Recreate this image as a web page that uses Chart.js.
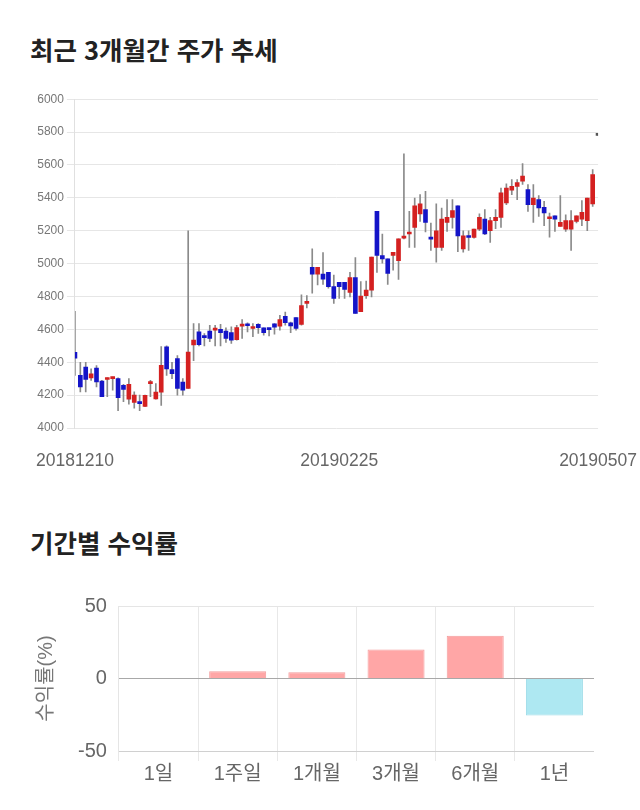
<!DOCTYPE html>
<html lang="ko">
<head>
<meta charset="utf-8">
<title>주가 추세</title>
<script src="https://cdn.jsdelivr.net/npm/chart.js@4/dist/chart.umd.min.js"></script>
<style>
  html, body { margin: 0; padding: 0; background: #fff; }
  body { width: 640px; height: 810px; position: relative; overflow: hidden; }
  .title {
    position: absolute; left: 30px; margin: 0;
    font-family: "Noto Sans CJK KR", "Noto Sans", sans-serif;
    font-size: 25.5px; font-weight: bold; line-height: 26px; color: #222;
  }
  canvas { position: absolute; }
</style>
</head>
<body>
<h2 class="title" style="top:36px">최근 3개월간 주가 추세</h2>
<canvas id="price-chart" width="607" height="386" style="left:33px; top:89px"></canvas>
<h2 class="title" style="top:529px">기간별 수익률</h2>
<canvas id="return-chart" width="564" height="196" style="left:30px; top:591px"></canvas>
<script>
// 일별 시세 (시가 / 고가 / 저가 / 종가)
const dates = [
  "20181210","20181211","20181212","20181213","20181214","20181217","20181218","20181219","20181220","20181221",
  "20181224","20181226","20181227","20181228","20190102","20190103","20190104","20190107","20190108","20190109",
  "20190110","20190111","20190114","20190115","20190116","20190117","20190118","20190121","20190122","20190123",
  "20190124","20190125","20190128","20190129","20190130","20190131","20190201","20190207","20190208","20190211",
  "20190212","20190213","20190214","20190215","20190218","20190219","20190220","20190221","20190222","20190225",
  "20190226","20190227","20190228","20190304","20190305","20190306","20190307","20190308","20190311","20190312",
  "20190313","20190314","20190315","20190318","20190319","20190320","20190321","20190322","20190325","20190326",
  "20190327","20190328","20190329","20190401","20190402","20190403","20190404","20190405","20190408","20190409",
  "20190410","20190411","20190412","20190415","20190416","20190417","20190418","20190419","20190422","20190423",
  "20190424","20190425","20190426","20190429","20190430","20190502","20190503","20190507"
];
const openPrices = [
  4460,4320,4370,4305,4365,4285,4295,4300,4300,4260, 4175,4155,4150,4132,4270,4177,4218,4493,4356,4422,
  4280,4240,4505,4585,4560,4590,4595,4600,4590,4580, 4538,4620,4625,4605,4630,4610,4600,4633,4620,4680,
  4640,4672,4630,4758,4978,4935,4937,4947,4860,4886, 4886,4825,4915,4707,4805,4839,5318,5049,5029,5049,
  5018,5155,5180,5220,5302,5328,5159,5098,5098,5251, 5281,5352,5090,5169,5159,5210,5271,5200,5261,5281,
  5369,5446,5470,5501,5450,5359,5389,5342,5273,5291, 5226,5210,5210,5257,5271,5261,5363,5780
];
const highPrices = [
  4710,4400,4400,4360,4380,4290,4305,4310,4305,4265, 4300,4220,4200,4200,4290,4270,4495,4500,4400,4440,
  4300,5200,4635,4635,4575,4625,4625,4630,4610,4615, 4625,4660,4640,4635,4635,4610,4600,4635,4685,4705,
  4645,4672,4810,4805,5090,4978,5067,4947,4930,4886, 4886,4947,5037,4890,4894,5039,5318,5180,5029,5069,
  5151,5668,5318,5399,5420,5440,5247,5363,5338,5389, 5389,5352,5200,5200,5210,5302,5328,5281,5328,5460,
  5485,5511,5511,5609,5481,5481,5414,5379,5308,5291, 5414,5297,5322,5291,5383,5399,5572,5780
];
const lowPrices = [
  4320,4220,4220,4290,4250,4190,4190,4230,4105,4160, 4145,4120,4105,4130,4190,4175,4137,4320,4300,4200,
  4200,4240,4410,4500,4500,4525,4500,4500,4520,4515, 4535,4545,4585,4555,4575,4565,4560,4570,4595,4625,
  4580,4595,4625,4730,4820,4870,4874,4850,4758,4788, 4788,4798,4697,4707,4788,4798,4947,5002,4874,4960,
  4904,5150,5098,5098,5257,5192,5080,5008,5080,5196, 5216,5073,5069,5080,5155,5200,5176,5129,5212,5220,
  5358,5420,5389,5481,5318,5251,5287,5230,5161,5196, 5226,5196,5080,5247,5230,5200,5348,5780
];
const closePrices = [
  4425,4250,4295,4330,4280,4190,4300,4303,4185,4235, 4265,4200,4148,4198,4275,4218,4381,4360,4330,4240,
  4230,4462,4535,4507,4550,4545,4600,4580,4545,4535, 4611,4625,4622,4610,4610,4580,4598,4613,4660,4640,
  4621,4605,4745,4768,4935,4978,4906,4860,4788,4860, 4843,4915,4697,4803,4839,5039,5049,5029,4941,5069,
  5151,5165,5190,5352,5363,5251,5149,5200,5271,5281, 5322,5169,5169,5159,5210,5281,5180,5261,5281,5430,
  5460,5470,5493,5532,5359,5399,5338,5308,5277,5271, 5251,5261,5261,5291,5312,5399,5542,5780
];
const shownDateIdx = [0, 49, 97];
const priceTicks = { min: 4000, max: 6000, step: 200 };

// 기간별 수익률
const periods = ["1일", "1주일", "1개월", "3개월", "6개월", "1년"];
const returns = [0, 5.0, 4.3, 20.0, 29.5, -25.5];

const FONT = "'Liberation Sans', 'Noto Sans CJK KR', sans-serif";
Chart.defaults.font.family = FONT;
Chart.defaults.color = "#666";

// 캔들 차트 (몸통 + 꼬리를 플로팅 막대로)
const bodyColors = openPrices.map((o, i) => {
  if (closePrices[i] > o) return "#d42020";
  if (closePrices[i] < o) return "#1414c8";
  return "#555";
});

new Chart(document.getElementById("price-chart"), {
  type: "bar",
  data: {
    labels: dates,
    datasets: [
      {
        label: "body",
        data: openPrices.map((o, i) => [o, closePrices[i]]),
        backgroundColor: bodyColors,
        barThickness: 4,
        minBarLength: 2,
        grouped: false
      },
      {
        label: "wick",
        data: lowPrices.map((l, i) => [l, highPrices[i]]),
        backgroundColor: "#8a8a8a",
        barThickness: 1,
        grouped: false
      }
    ]
  },
  options: {
    responsive: false,
    animation: false,
    devicePixelRatio: 1,
    plugins: { legend: { display: false }, tooltip: { enabled: false } },
    scales: {
      x: {
        offset: false,
        grid: { display: false, drawTicks: true, tickLength: 20 },
        border: { display: false },
        ticks: {
          autoSkip: false,
          maxRotation: 0,
          padding: 3,
          color: "#666",
          font: { size: 17.5 },
          callback: function (value, index) {
            return shownDateIdx.includes(index) ? dates[index] : "";
          }
        }
      },
      y: {
        min: priceTicks.min,
        max: priceTicks.max,
        grid: { color: "#e6e6e6" },
        border: { color: "#e0e0e0" },
        ticks: {
          stepSize: priceTicks.step,
          color: "#777",
          font: { size: 12 },
          callback: value => String(value)
        }
      }
    }
  }
});

// 수익률 막대 차트
new Chart(document.getElementById("return-chart"), {
  type: "bar",
  data: {
    labels: periods,
    datasets: [{
      data: returns,
      backgroundColor: returns.map(v => v >= 0 ? "#ffa6a6" : "#aee8f2"),
      borderColor: returns.map(v => v >= 0 ? "#f39c9c" : "#9bdbe8"),
      borderWidth: 1
    }]
  },
  options: {
    responsive: false,
    animation: false,
    devicePixelRatio: 1,
    plugins: { legend: { display: false }, tooltip: { enabled: false } },
    scales: {
      x: {
        grid: { color: "#e8e8e8", tickLength: 10 },
        border: { color: "#d0d0d0" },
        ticks: { padding: 1, color: "#666", font: { size: 20 } }
      },
      y: {
        min: -50,
        max: 50,
        grid: {
          color: ctx => ctx.tick && ctx.tick.value === 0 ? "#a8a8a8" : "#e5e5e5",
          tickColor: "rgba(0,0,0,0)",
          tickLength: 9
        },
        border: { color: "#e5e5e5" },
        ticks: { stepSize: 50, padding: 3, color: "#666", font: { size: 20 } },
        title: {
          display: true,
          text: "수익률(%)",
          color: "#777",
          font: { size: 20 },
          padding: { top: 4, bottom: 17 }
        }
      }
    }
  }
});
</script>
</body>
</html>
